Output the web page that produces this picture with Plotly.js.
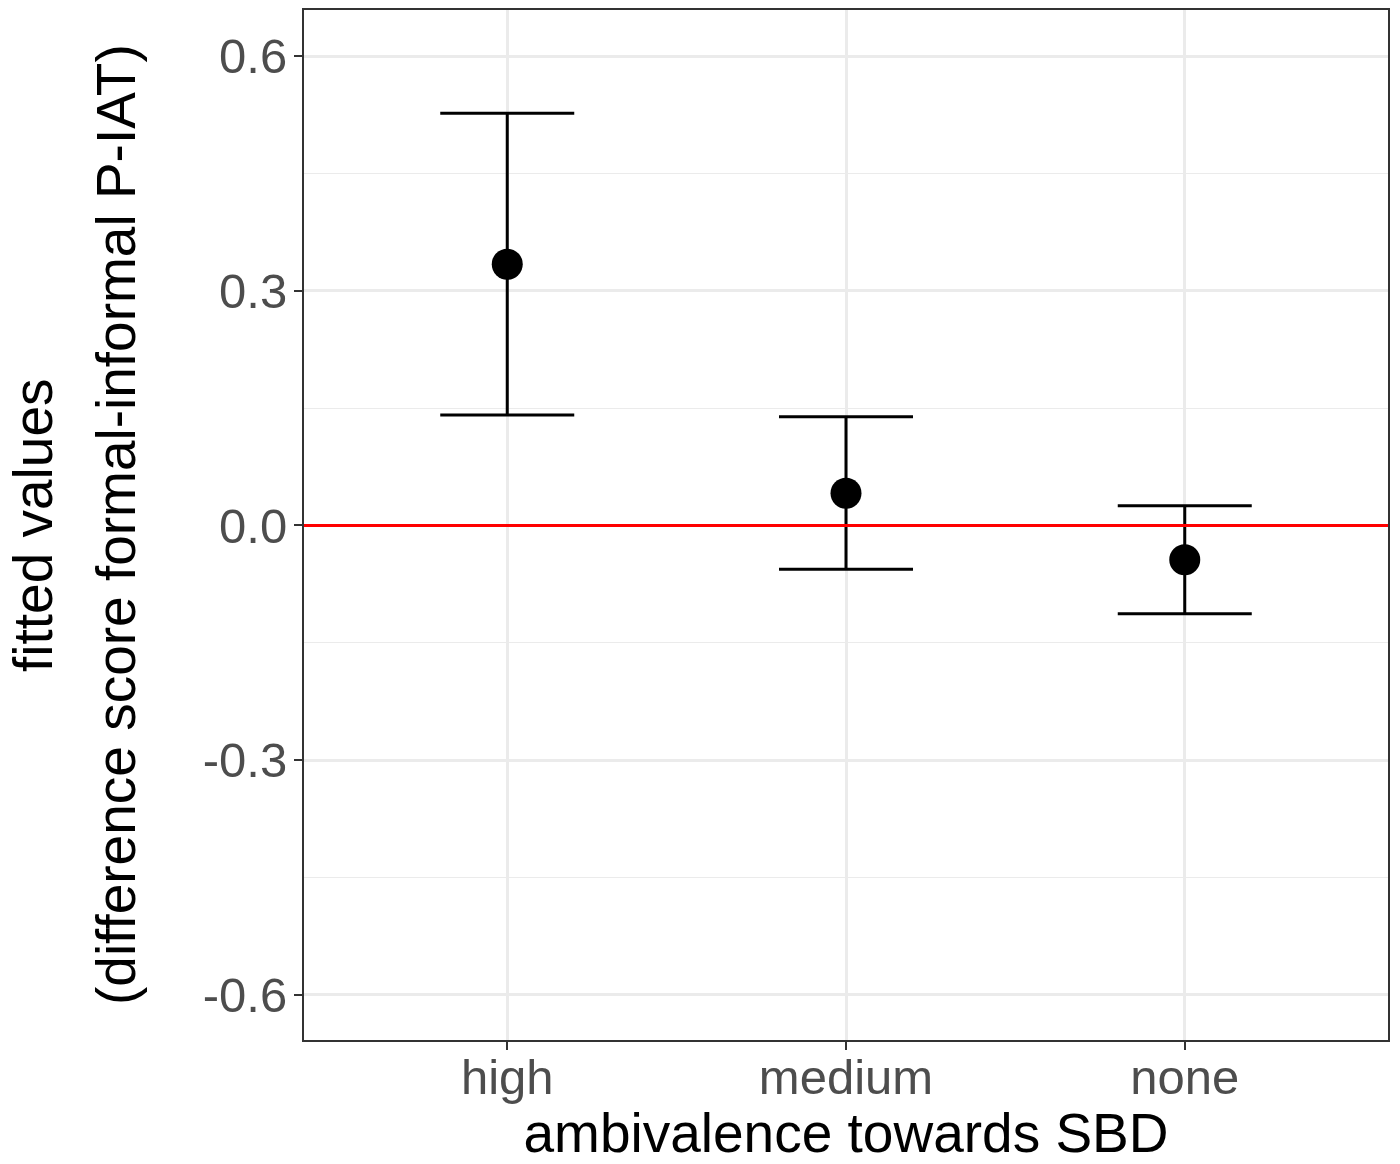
<!DOCTYPE html>
<html>
<head>
<meta charset="utf-8">
<script src="https://cdn.plot.ly/plotly-3.0.1.min.js"></script>
<style>
html, body { margin: 0; padding: 0; background: #ffffff; }
#chart { width: 1400px; height: 1164px; }
</style>
</head>
<body>
<div id="chart"></div>
<script>
// Data
const categories = ['high', 'medium', 'none'];
const fittedValues = [0.334, 0.041, -0.044];
const upperCI = [0.527, 0.139, 0.025];
const lowerCI = [0.141, -0.056, -0.113];

const yTickVals = [-0.6, -0.3, 0.0, 0.3, 0.6];
const yTickText = ['-0.6', '-0.3', '0.0', '0.3', '0.6'];
const yMinorVals = [-0.45, -0.15, 0.15, 0.45];

const xTitle = 'ambivalence towards SBD';
const yTitleLine1 = 'fitted values';
const yTitleLine2 = '(difference score formal-informal P-IAT)';
const referenceValue = 0;

const errPlus = upperCI.map((u, i) => u - fittedValues[i]);
const errMinus = lowerCI.map((l, i) => fittedValues[i] - l);

const FONT = 'Liberation Sans, Arial, Helvetica, sans-serif';

const trace = {
  type: 'scatter',
  mode: 'markers',
  x: categories,
  y: fittedValues,
  marker: { color: '#000000', size: 31 },
  error_y: {
    type: 'data',
    symmetric: false,
    array: errPlus,
    arrayminus: errMinus,
    color: '#000000',
    thickness: 3,
    width: 67
  },
  hoverinfo: 'x+y',
  showlegend: false
};

const layout = {
  width: 1400,
  height: 1164,
  margin: { l: 304, r: 12, t: 10, b: 124 },
  paper_bgcolor: '#ffffff',
  plot_bgcolor: '#ffffff',
  showlegend: false,
  font: { family: FONT, color: '#000000' },
  xaxis: {
    type: 'category',
    categoryorder: 'array',
    categoryarray: categories,
    range: [-0.6, 2.6],
    showgrid: true,
    gridcolor: '#EBEBEB',
    gridwidth: 2.5,
    zeroline: false,
    showline: true,
    mirror: true,
    linecolor: '#333333',
    linewidth: 2,
    ticks: 'outside',
    ticklen: 8,
    tickwidth: 2,
    tickcolor: '#333333',
    ticklabelstandoff: -15,
    tickfont: { family: FONT, size: 49, color: '#4D4D4D' },
    title: {
      text: xTitle,
      font: { family: FONT, size: 55, color: '#000000' },
      standoff: 31
    },
    automargin: false
  },
  yaxis: {
    range: [-0.658, 0.659],
    tickmode: 'array',
    tickvals: yTickVals,
    ticktext: yTickText,
    showgrid: true,
    gridcolor: '#EBEBEB',
    gridwidth: 2.5,
    zeroline: false,
    showline: true,
    mirror: true,
    linecolor: '#333333',
    linewidth: 2,
    ticks: 'outside',
    ticklen: 8,
    tickwidth: 2,
    tickcolor: '#333333',
    ticklabelstandoff: -3,
    tickfont: { family: FONT, size: 49, color: '#4D4D4D' },
    minor: {
      tickmode: 'array',
      tickvals: yMinorVals,
      showgrid: true,
      gridcolor: '#EBEBEB',
      gridwidth: 1.3,
      ticks: ''
    },
    automargin: false
  },
  shapes: [{
    type: 'line',
    xref: 'paper', x0: 0, x1: 1,
    yref: 'y', y0: referenceValue, y1: referenceValue,
    line: { color: '#FF0000', width: 3 },
    layer: 'above'
  }],
  annotations: [
    {
      text: yTitleLine1,
      xref: 'paper', yref: 'paper', x: 0, y: 0.5,
      xanchor: 'center', yanchor: 'middle',
      xshift: -271, textangle: -90, showarrow: false,
      font: { family: FONT, size: 55, color: '#000000' }
    },
    {
      text: yTitleLine2,
      xref: 'paper', yref: 'paper', x: 0, y: 0.5,
      xanchor: 'center', yanchor: 'middle',
      xshift: -188, textangle: -90, showarrow: false,
      font: { family: FONT, size: 55, color: '#000000' }
    }
  ]
};

Plotly.newPlot('chart', [trace], layout, { displayModeBar: false, responsive: false });
</script>
</body>
</html>
